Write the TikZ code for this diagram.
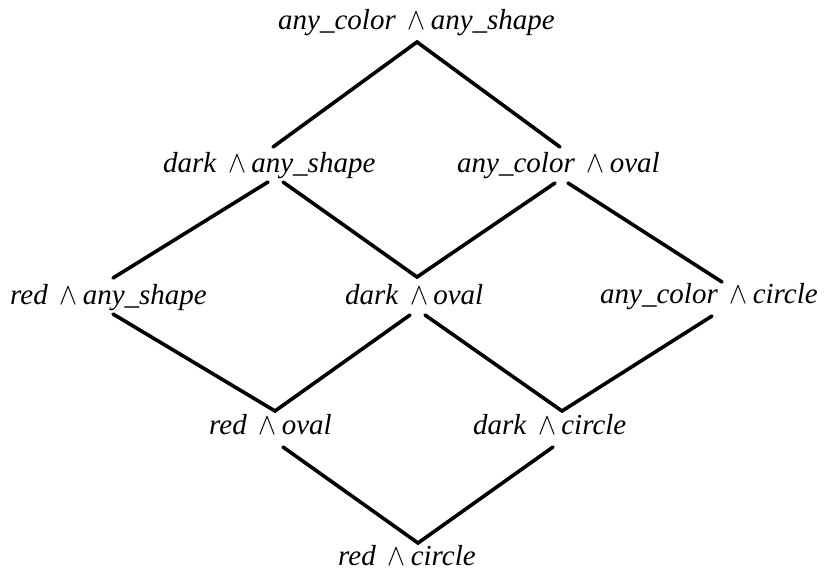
\documentclass[tikz,border=0pt]{standalone}
\usepackage{fontspec}
\usepackage{graphicx}
\setmainfont{Liberation Serif}
\newcommand{\andlbl}[2]{#1\hspace{12pt}\resizebox{18pt}{17pt}{$\wedge$}\hspace{5pt}#2}
\begin{document}
\begin{tikzpicture}[x=1pt,y=-1pt,
  lbl/.style={anchor=base west,inner sep=0pt,font=\fontsize{29}{31}\selectfont\itshape},
  edge/.style={line width=3.6pt,line cap=round,line join=miter}]
\useasboundingbox (0,0) rectangle (826,573);
% labels
\node[lbl] (A) at (278,29) {\andlbl{any\_color}{any\_shape}};
\node[lbl] (B) at (163,172) {\andlbl{dark}{any\_shape}};
\node[lbl] (C) at (457,172) {\andlbl{any\_color}{oval}};
\node[lbl] (D) at (10,304) {\andlbl{red}{any\_shape}};
\node[lbl] (E) at (345,304) {\andlbl{dark}{oval}};
\node[lbl] (F) at (600,303) {\andlbl{any\_color}{circle}};
\node[lbl] (G) at (209,434) {\andlbl{red}{oval}};
\node[lbl] (H) at (473,434) {\andlbl{dark}{circle}};
\node[lbl] (I) at (338,565) {\andlbl{red}{circle}};
% connector ends
\coordinate (Ab) at (417,42);
\coordinate (Bt) at (273,147);
\coordinate (Bl) at (268,182);
\coordinate (Br) at (283,182);
\coordinate (Ct) at (560,147);
\coordinate (Cl) at (555,183);
\coordinate (Cr) at (568,183);
\coordinate (Dt) at (113,278);
\coordinate (Db) at (113,314);
\coordinate (Et) at (417,277);
\coordinate (El) at (410,315);
\coordinate (Er) at (425,315);
\coordinate (Ft) at (722,282);
\coordinate (Fb) at (712,316);
\coordinate (Gt) at (275,411);
\coordinate (Gb) at (283,447);
\coordinate (Ht) at (562,411);
\coordinate (Hb) at (553,447);
\coordinate (It) at (418,543);
% connectors
\draw[edge] (Bt) -- (Ab) -- (Ct);
\draw[edge] (Dt) -- (Bl);
\draw[edge] (Br) -- (Et) -- (Cl);
\draw[edge] (Cr) -- (Ft);
\draw[edge] (Db) -- (Gt) -- (El);
\draw[edge] (Er) -- (Ht) -- (Fb);
\draw[edge] (Gb) -- (It) -- (Hb);
\end{tikzpicture}
\end{document}
